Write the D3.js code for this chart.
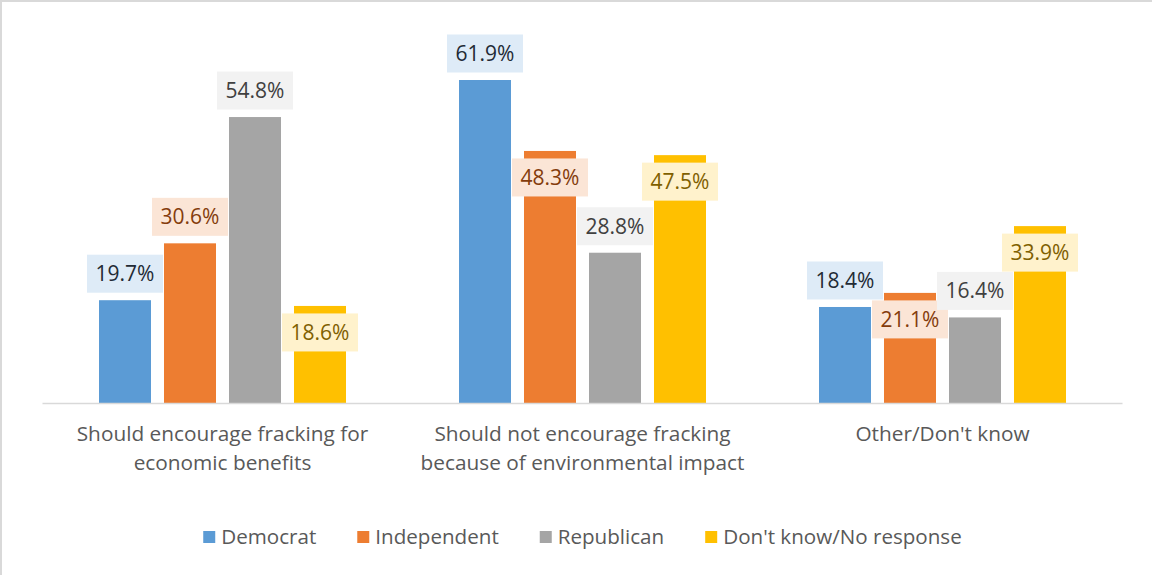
<!DOCTYPE html>
<html>
<head>
<meta charset="utf-8">
<style>
body { margin: 0; background: #fff; }
svg text { font-family: "Open Sans", sans-serif; }
</style>
</head>
<body>
<div id="chart"></div>
<script src="https://d3js.org/d3.v7.min.js"></script>
<script>

// data
var categories = [
  ["Should encourage fracking for", "economic benefits"],
  ["Should not encourage fracking", "because of environmental impact"],
  ["Other/Don't know"]
];
var seriesNames = ["Democrat", "Independent", "Republican", "Don't know/No response"];
var democrat    = [19.7, 61.9, 18.4];
var independent = [30.6, 48.3, 21.1];
var republican  = [54.8, 28.8, 16.4];
var dontKnow    = [18.6, 47.5, 33.9];
// label sits inside the bar top (1) or above it (0), as in the picture
var labelInside = [[0, 0, 0], [0, 1, 1], [0, 0, 0], [1, 1, 1]];

var values = [democrat, independent, republican, dontKnow];
var barColors  = ["#5B9BD5", "#ED7D31", "#A5A5A5", "#FFC000"];
var boxColors  = ["#DEEBF7", "#FBE5D6", "#F2F2F2", "#FFF2CC"];
var textColors = ["#222A35", "#843C0C", "#404040", "#7F6000"];

var width = 1152, height = 575;
var baseY = 403;

var svg = d3.select("#chart").append("svg")
    .attr("width", width)
    .attr("height", height);

svg.append("rect").attr("width", width).attr("height", height).attr("fill", "#fff");
// chart area border (only top and left visible in the shot)
svg.append("path")
    .attr("d", "M1," + height + "V1H" + width)
    .attr("fill", "none")
    .attr("stroke", "#D9D9D9")
    .attr("stroke-width", 2);

var x0 = d3.scaleBand()
    .domain(d3.range(categories.length))
    .range([42.5, 1122.5]);

var x1 = d3.scaleBand()
    .domain(d3.range(seriesNames.length))
    .range([56.5, 303.5])
    .paddingInner(0.2);

var y = d3.scaleLinear()
    .domain([0, 70])
    .range([baseY, baseY - 70 * 323 / 61.9]);

// bars
var groups = svg.append("g").selectAll("g")
  .data(categories)
  .join("g")
    .attr("transform", (d, i) => "translate(" + x0(i) + ",0)");

groups.selectAll("rect")
  .data((d, i) => values.map((v, s) => ({s: s, c: i, v: v[i]})))
  .join("rect")
    .attr("x", d => x1(d.s))
    .attr("width", x1.bandwidth())
    .attr("y", d => y(d.v))
    .attr("height", d => y(0) - y(d.v))
    .attr("fill", d => barColors[d.s]);

// axis line
svg.append("line")
    .attr("x1", x0.range()[0]).attr("x2", x0.range()[1])
    .attr("y1", baseY + 0.5).attr("y2", baseY + 0.5)
    .attr("stroke", "#D9D9D9")
    .attr("stroke-width", 1.5);

// data labels
var boxW = 76, boxH = 38, gap = 7.5;
var lab = groups.selectAll("g.lab")
  .data((d, i) => values.map((v, s) => ({s: s, c: i, v: v[i]})))
  .join("g")
    .attr("class", "lab")
    .attr("transform", function(d) {
      var cx = x1(d.s) + x1.bandwidth() / 2;
      var top = labelInside[d.s][d.c] ? y(d.v) + gap : y(d.v) - gap - boxH;
      return "translate(" + cx + "," + top + ")";
    });

lab.append("rect")
    .attr("x", -boxW / 2)
    .attr("width", boxW)
    .attr("height", boxH)
    .attr("fill", d => boxColors[d.s]);

lab.append("text")
    .attr("y", boxH / 2)
    .attr("dy", "0.35em")
    .attr("text-anchor", "middle")
    .attr("font-size", 21)
    .attr("fill", d => textColors[d.s])
    .text(d => d.v.toFixed(1) + "%");

// category labels
var catText = svg.append("g").selectAll("text")
  .data(categories)
  .join("text")
    .attr("text-anchor", "middle")
    .attr("font-size", 20.8)
    .attr("fill", "#595959")
    .attr("x", (d, i) => x0(i) + x0.bandwidth() / 2)
    .attr("y", 434);

catText.selectAll("tspan")
  .data(d => d)
  .join("tspan")
    .attr("x", function() { return this.parentNode.getAttribute("x"); })
    .attr("dy", (d, i) => i === 0 ? "0.35em" : 29)
    .text(d => d);

// legend
var legend = svg.append("g");
var items = legend.selectAll("g")
  .data(seriesNames)
  .join("g");

items.append("rect")
    .attr("y", -6)
    .attr("width", 12)
    .attr("height", 12)
    .attr("fill", (d, i) => barColors[i]);

items.append("text")
    .attr("x", 18)
    .attr("dy", "0.35em")
    .attr("font-size", 20.6)
    .attr("fill", "#595959")
    .text(d => d);

var pos = 0, itemGap = 41, offs = [];
items.each(function(d, i) {
  offs.push(pos);
  pos += 18 + this.querySelector("text").getComputedTextLength() + itemGap;
});
var total = pos - itemGap;
var startX = (x0.range()[0] + x0.range()[1]) / 2 - total / 2;
items.attr("transform", (d, i) => "translate(" + (startX + offs[i]) + ",537)");

</script>
</body>
</html>
